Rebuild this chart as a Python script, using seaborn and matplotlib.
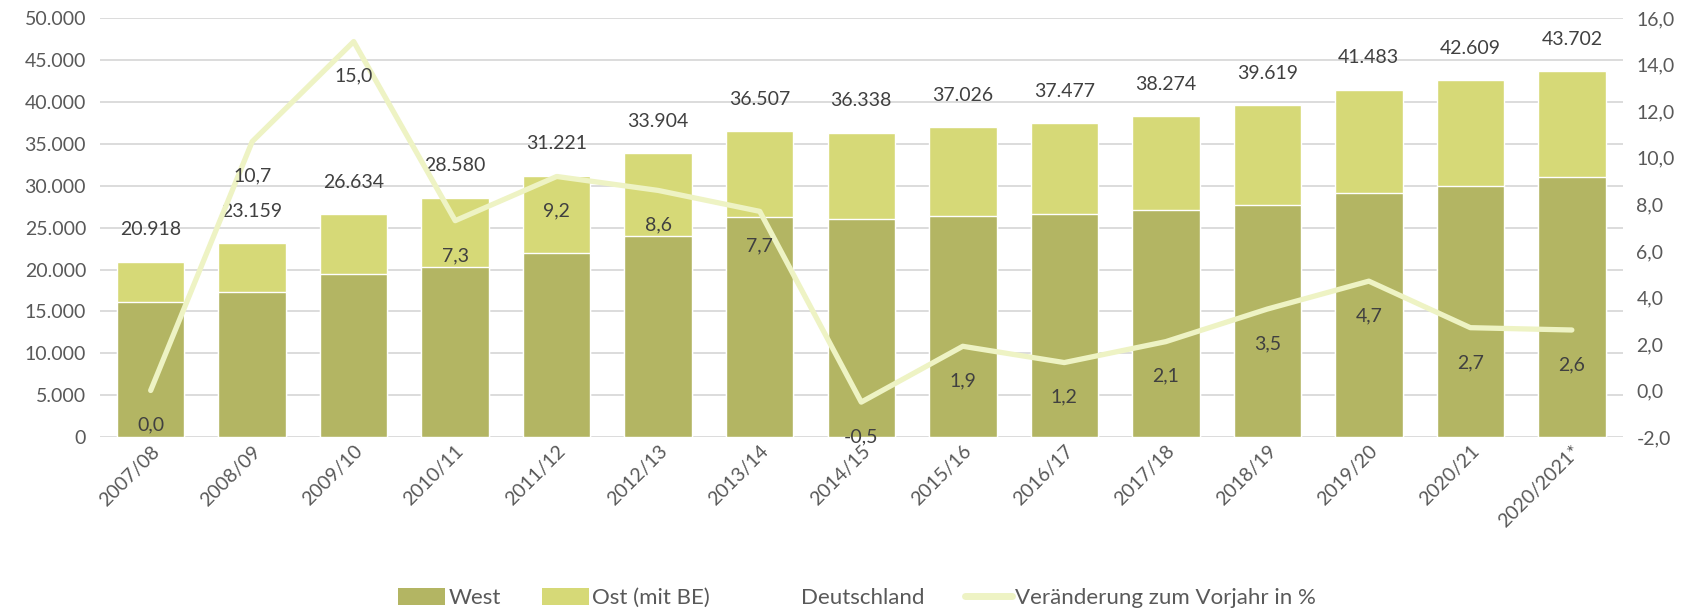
import matplotlib
matplotlib.use("Agg")
import matplotlib.pyplot as plt
import seaborn as sns
import numpy as np
import pandas as pd
from matplotlib.patches import Patch
from matplotlib.lines import Line2D

years = ["2007/08", "2008/09", "2009/10", "2010/11", "2011/12", "2012/13", "2013/14",
         "2014/15", "2015/16", "2016/17", "2017/18", "2018/19", "2019/20", "2020/21", "2020/2021*"]
deutschland = [20918, 23159, 26634, 28580, 31221, 33904, 36507, 36338, 37026, 37477,
               38274, 39619, 41483, 42609, 43702]
west = [16150, 17340, 19520, 20320, 21980, 24000, 26270, 26030, 26430, 26670,
        27100, 27740, 29170, 30000, 31100]
ost = [d - w for d, w in zip(deutschland, west)]
veraenderung = [0.0, 10.7, 15.0, 7.3, 9.2, 8.6, 7.7, -0.5, 1.9, 1.2, 2.1, 3.5, 4.7, 2.7, 2.6]

C_WEST = "#b3b563"
C_OST = "#d6d977"
C_LINE = "#eef3c4"
C_TEXT = "#404040"
C_TICK = "#595959"

sns.set_theme(style="white")
plt.rcParams["font.family"] = ["Lato", "DejaVu Sans"]

df = pd.DataFrame({"Jahr": years, "West": west, "Ost": ost, "Gesamt": deutschland,
                   "Veraenderung": veraenderung})

fig = plt.figure(figsize=(17.08, 6.10), dpi=100)
ax = fig.add_axes([0.0585, 0.2836, 0.8915, 0.6864])

# stacked bars: total first (Ost on top), then West
sns.barplot(data=df, x="Jahr", y="Gesamt", color=C_OST, width=0.665, ax=ax,
            saturation=1, zorder=2)
sns.barplot(data=df, x="Jahr", y="West", color=C_WEST, width=0.665, ax=ax,
            saturation=1, zorder=2)

ax.set_ylim(0, 50000)
ax.set_xlim(-0.5, len(years) - 0.5)
ax.set_yticks(np.arange(0, 50001, 5000))
ax.set_yticklabels([f"{int(v):,}".replace(",", ".") for v in np.arange(0, 50001, 5000)])
ax.grid(axis="y", color="#d9d9d9", linewidth=1.3, zorder=0)
ax.set_axisbelow(True)
for s in ax.spines.values():
    s.set_visible(False)
ax.set_xlabel("")
ax.set_ylabel("")
ax.tick_params(axis="y", length=0, labelsize=14, labelcolor=C_TICK, pad=10)
ax.tick_params(axis="x", length=0, labelsize=14, labelcolor=C_TICK, pad=4)
ax.set_xticks(range(len(years)))
ax.set_xticklabels(years, rotation=45, ha="right", rotation_mode="anchor")

for i, d in enumerate(deutschland):
    ax.annotate(f"{d:,}".replace(",", "."), (i, d), xytext=(0, 23),
                textcoords="offset points", ha="center", va="center",
                fontsize=14, color=C_TEXT)

ax2 = ax.twinx()
sns.lineplot(x=np.arange(len(years)), y=veraenderung, ax=ax2, color=C_LINE,
             linewidth=3.8, zorder=5)
ax2.set_ylim(-2, 16)
ax2.set_yticks(np.arange(-2, 16.1, 2))
ax2.set_yticklabels([f"{v:.1f}".replace(".", ",") for v in np.arange(-2, 16.1, 2)])
ax2.tick_params(axis="y", length=0, labelsize=14, labelcolor=C_TICK, pad=10)
for s in ax2.spines.values():
    s.set_visible(False)
ax2.grid(False)
ax2.set_ylabel("")
for i, v in enumerate(veraenderung):
    ax2.annotate(f"{v:.1f}".replace(".", ","), (i, v), xytext=(0, -25),
                 textcoords="offset points", ha="center", va="center",
                 fontsize=14, color=C_TEXT, zorder=6)

handles = [Patch(facecolor=C_WEST, edgecolor="none"),
           Patch(facecolor=C_OST, edgecolor="none"),
           Line2D([], [], color="none"),
           Line2D([], [], color=C_LINE, linewidth=5, solid_capstyle="round")]
labels = ["West", "Ost (mit BE)", "Deutschland", "Veränderung zum Vorjahr in %"]
fig.legend(handles, labels, loc="center", bbox_to_anchor=(0.502, 0.02), ncol=4,
           frameon=False, fontsize=16, handlelength=2.1, handleheight=0.8,
           handletextpad=0.15, columnspacing=1.85, labelcolor=C_TICK)

fig.savefig("out.png", dpi=100)
